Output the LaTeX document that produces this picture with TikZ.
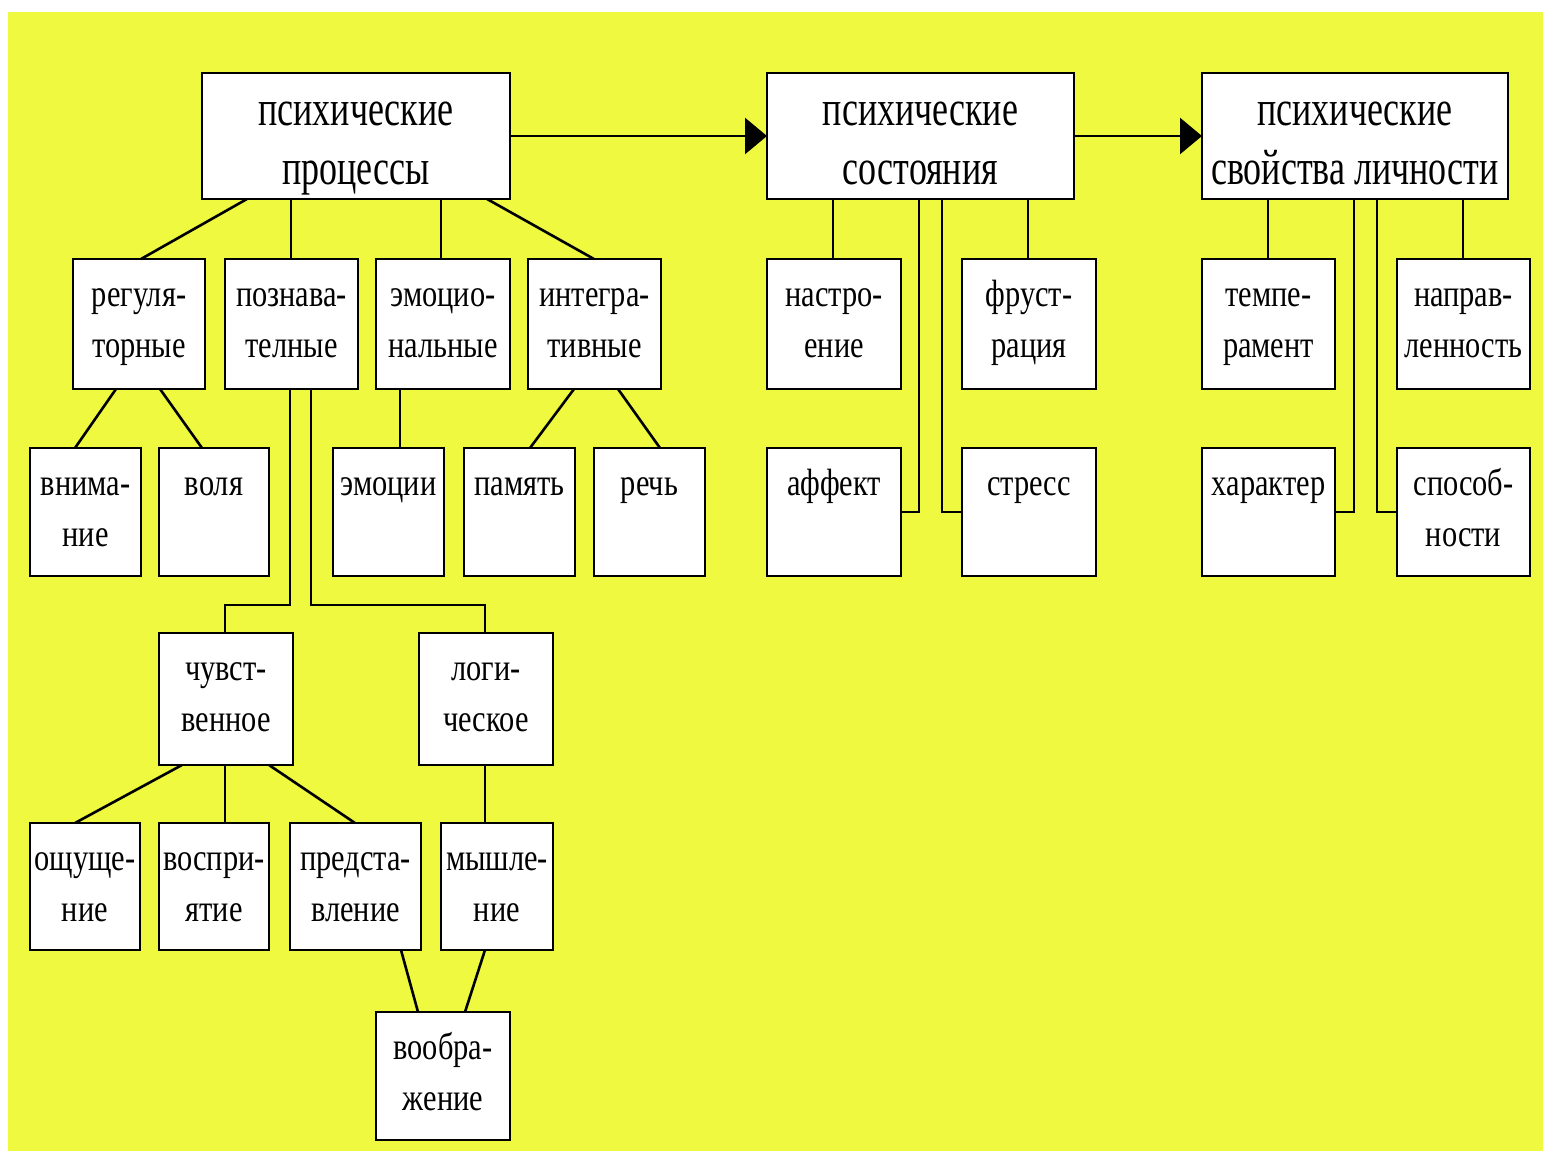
\documentclass[tikz,border=0pt]{standalone}
\usepackage{fontspec}
\setmainfont{Liberation Serif}
\newfontfamily\topfam[FakeStretch=0.72]{Liberation Serif}
\newfontfamily\smfam[FakeStretch=0.8]{Liberation Serif}
\usetikzlibrary{calc,arrows.meta}
\definecolor{bgyellow}{RGB}{238,249,64}
\newcommand\tbx[3]{\begin{minipage}[c][#2pt][t]{#1pt}\centering\topfam\fontsize{50}{59}\selectfont\rule{0pt}{52pt}#3\end{minipage}}
\newcommand\sbx[3]{\begin{minipage}[c][#2pt][t]{#1pt}\centering\smfam\fontsize{38}{51}\selectfont\rule{0pt}{47pt}#3\end{minipage}}
\tikzset{
  bx/.style={draw=black, line width=2.6pt, fill=white, inner sep=0pt, outer sep=0pt, anchor=north west},
  ln/.style={draw=black, line width=2.6pt},
  arr/.style={ln, -{Triangle[length=22pt,width=36pt]}}
}
\begin{document}
\begin{tikzpicture}[x=1pt,y=-1pt]
\useasboundingbox (0,0) rectangle (1543,1151);
\fill[white] (0,0) rectangle (1543,1151);
\fill[bgyellow] (8,12) rectangle (1543,1151);
% top row
\node[bx] (P) at (202,73) {\tbx{308}{126}{психические\\процессы}};
\node[bx] (S) at (767,73) {\tbx{307}{126}{психические\\состояния}};
\node[bx] (L) at (1202,73) {\tbx{306}{126}{психические\\свойства личности}};
% row 2
\node[bx] (reg) at (73,259) {\sbx{132}{130}{регуля-\\торные}};
\node[bx] (poz) at (225,259) {\sbx{133}{130}{познава-\\телные}};
\node[bx] (emo) at (376,259) {\sbx{134}{130}{эмоцио-\\нальные}};
\node[bx] (int) at (528,259) {\sbx{133}{130}{интегра-\\тивные}};
\node[bx] (nas) at (767,259) {\sbx{134}{130}{настро-\\ение}};
\node[bx] (fru) at (962,259) {\sbx{134}{130}{фруст-\\рация}};
\node[bx] (tem) at (1202,259) {\sbx{133}{130}{темпе-\\рамент}};
\node[bx] (nap) at (1397,259) {\sbx{133}{130}{направ-\\ленность}};
% row 3
\node[bx] (vni) at (30,448) {\sbx{111}{128}{внима-\\ние}};
\node[bx] (vol) at (159,448) {\sbx{110}{128}{воля}};
\node[bx] (emi) at (333,448) {\sbx{111}{128}{эмоции}};
\node[bx] (pam) at (464,448) {\sbx{111}{128}{память}};
\node[bx] (rec) at (594,448) {\sbx{111}{128}{речь}};
\node[bx] (aff) at (767,448) {\sbx{134}{128}{аффект}};
\node[bx] (str) at (962,448) {\sbx{134}{128}{стресс}};
\node[bx] (har) at (1202,448) {\sbx{133}{128}{характер}};
\node[bx] (spo) at (1397,448) {\sbx{133}{128}{способ-\\ности}};
% row 4
\node[bx] (chu) at (159,633) {\sbx{134}{132}{чувст-\\венное}};
\node[bx] (log) at (419,633) {\sbx{134}{132}{логи-\\ческое}};
% row 5
\node[bx] (osh) at (30,823) {\sbx{110}{127}{ощуще-\\ние}};
\node[bx] (vos) at (159,823) {\sbx{110}{127}{воспри-\\ятие}};
\node[bx] (pre) at (290,823) {\sbx{131}{127}{предста-\\вление}};
\node[bx] (mys) at (441,823) {\sbx{112}{127}{мышле-\\ние}};
% row 6
\node[bx] (voo) at (376,1012) {\sbx{134}{128}{вообра-\\жение}};
% arrows
\draw[arr] (P) -- (S);
\draw[arr] (S) -- (L);
% processes
\draw[ln] ($(P.south west)+(45,0)$) -- ($(reg.north west)+(68,0)$);
\draw[ln] ($(P.south west)+(89,0)$) -- ($(poz.north west)+(66,0)$);
\draw[ln] ($(P.south west)+(239,0)$) -- ($(emo.north west)+(65,0)$);
\draw[ln] ($(P.south west)+(285,0)$) -- ($(int.north west)+(66,0)$);
\draw[ln] ($(reg.south west)+(43,0)$) -- ($(vni.north west)+(45,0)$);
\draw[ln] ($(reg.south west)+(87,0)$) -- ($(vol.north west)+(43,0)$);
\draw[ln] ($(poz.south west)+(65,0)$) |- ($(chu.north west)+(66,-28)$) -- ($(chu.north west)+(66,0)$);
\draw[ln] ($(poz.south west)+(86,0)$) |- ($(log.north west)+(66,-28)$) -- ($(log.north west)+(66,0)$);
\draw[ln] ($(emo.south west)+(24,0)$) -- ($(emi.north west)+(67,0)$);
\draw[ln] ($(int.south west)+(46,0)$) -- ($(pam.north west)+(66,0)$);
\draw[ln] ($(int.south west)+(90,0)$) -- ($(rec.north west)+(66,0)$);
\draw[ln] ($(chu.south west)+(23,0)$) -- ($(osh.north west)+(45,0)$);
\draw[ln] ($(chu.south west)+(66,0)$) -- ($(vos.north west)+(66,0)$);
\draw[ln] ($(chu.south west)+(110,0)$) -- ($(pre.north west)+(65,0)$);
\draw[ln] ($(log.south west)+(66,0)$) -- ($(mys.north west)+(44,0)$);
\draw[ln] ($(pre.south west)+(111,0)$) -- ($(voo.north west)+(42,0)$);
\draw[ln] ($(mys.south west)+(44,0)$) -- ($(voo.north west)+(89,0)$);
% states
\draw[ln] ($(S.south west)+(66,0)$) -- ($(nas.north west)+(66,0)$);
\draw[ln] ($(S.south west)+(261,0)$) -- ($(fru.north west)+(66,0)$);
\draw[ln] ($(S.south west)+(152,0)$) |- (aff.east);
\draw[ln] ($(S.south west)+(175,0)$) |- (str.west);
% personality
\draw[ln] ($(L.south west)+(66,0)$) -- ($(tem.north west)+(66,0)$);
\draw[ln] ($(L.south west)+(261,0)$) -- ($(nap.north west)+(66,0)$);
\draw[ln] ($(L.south west)+(152,0)$) |- (har.east);
\draw[ln] ($(L.south west)+(175,0)$) |- (spo.west);
\end{tikzpicture}
\end{document}
